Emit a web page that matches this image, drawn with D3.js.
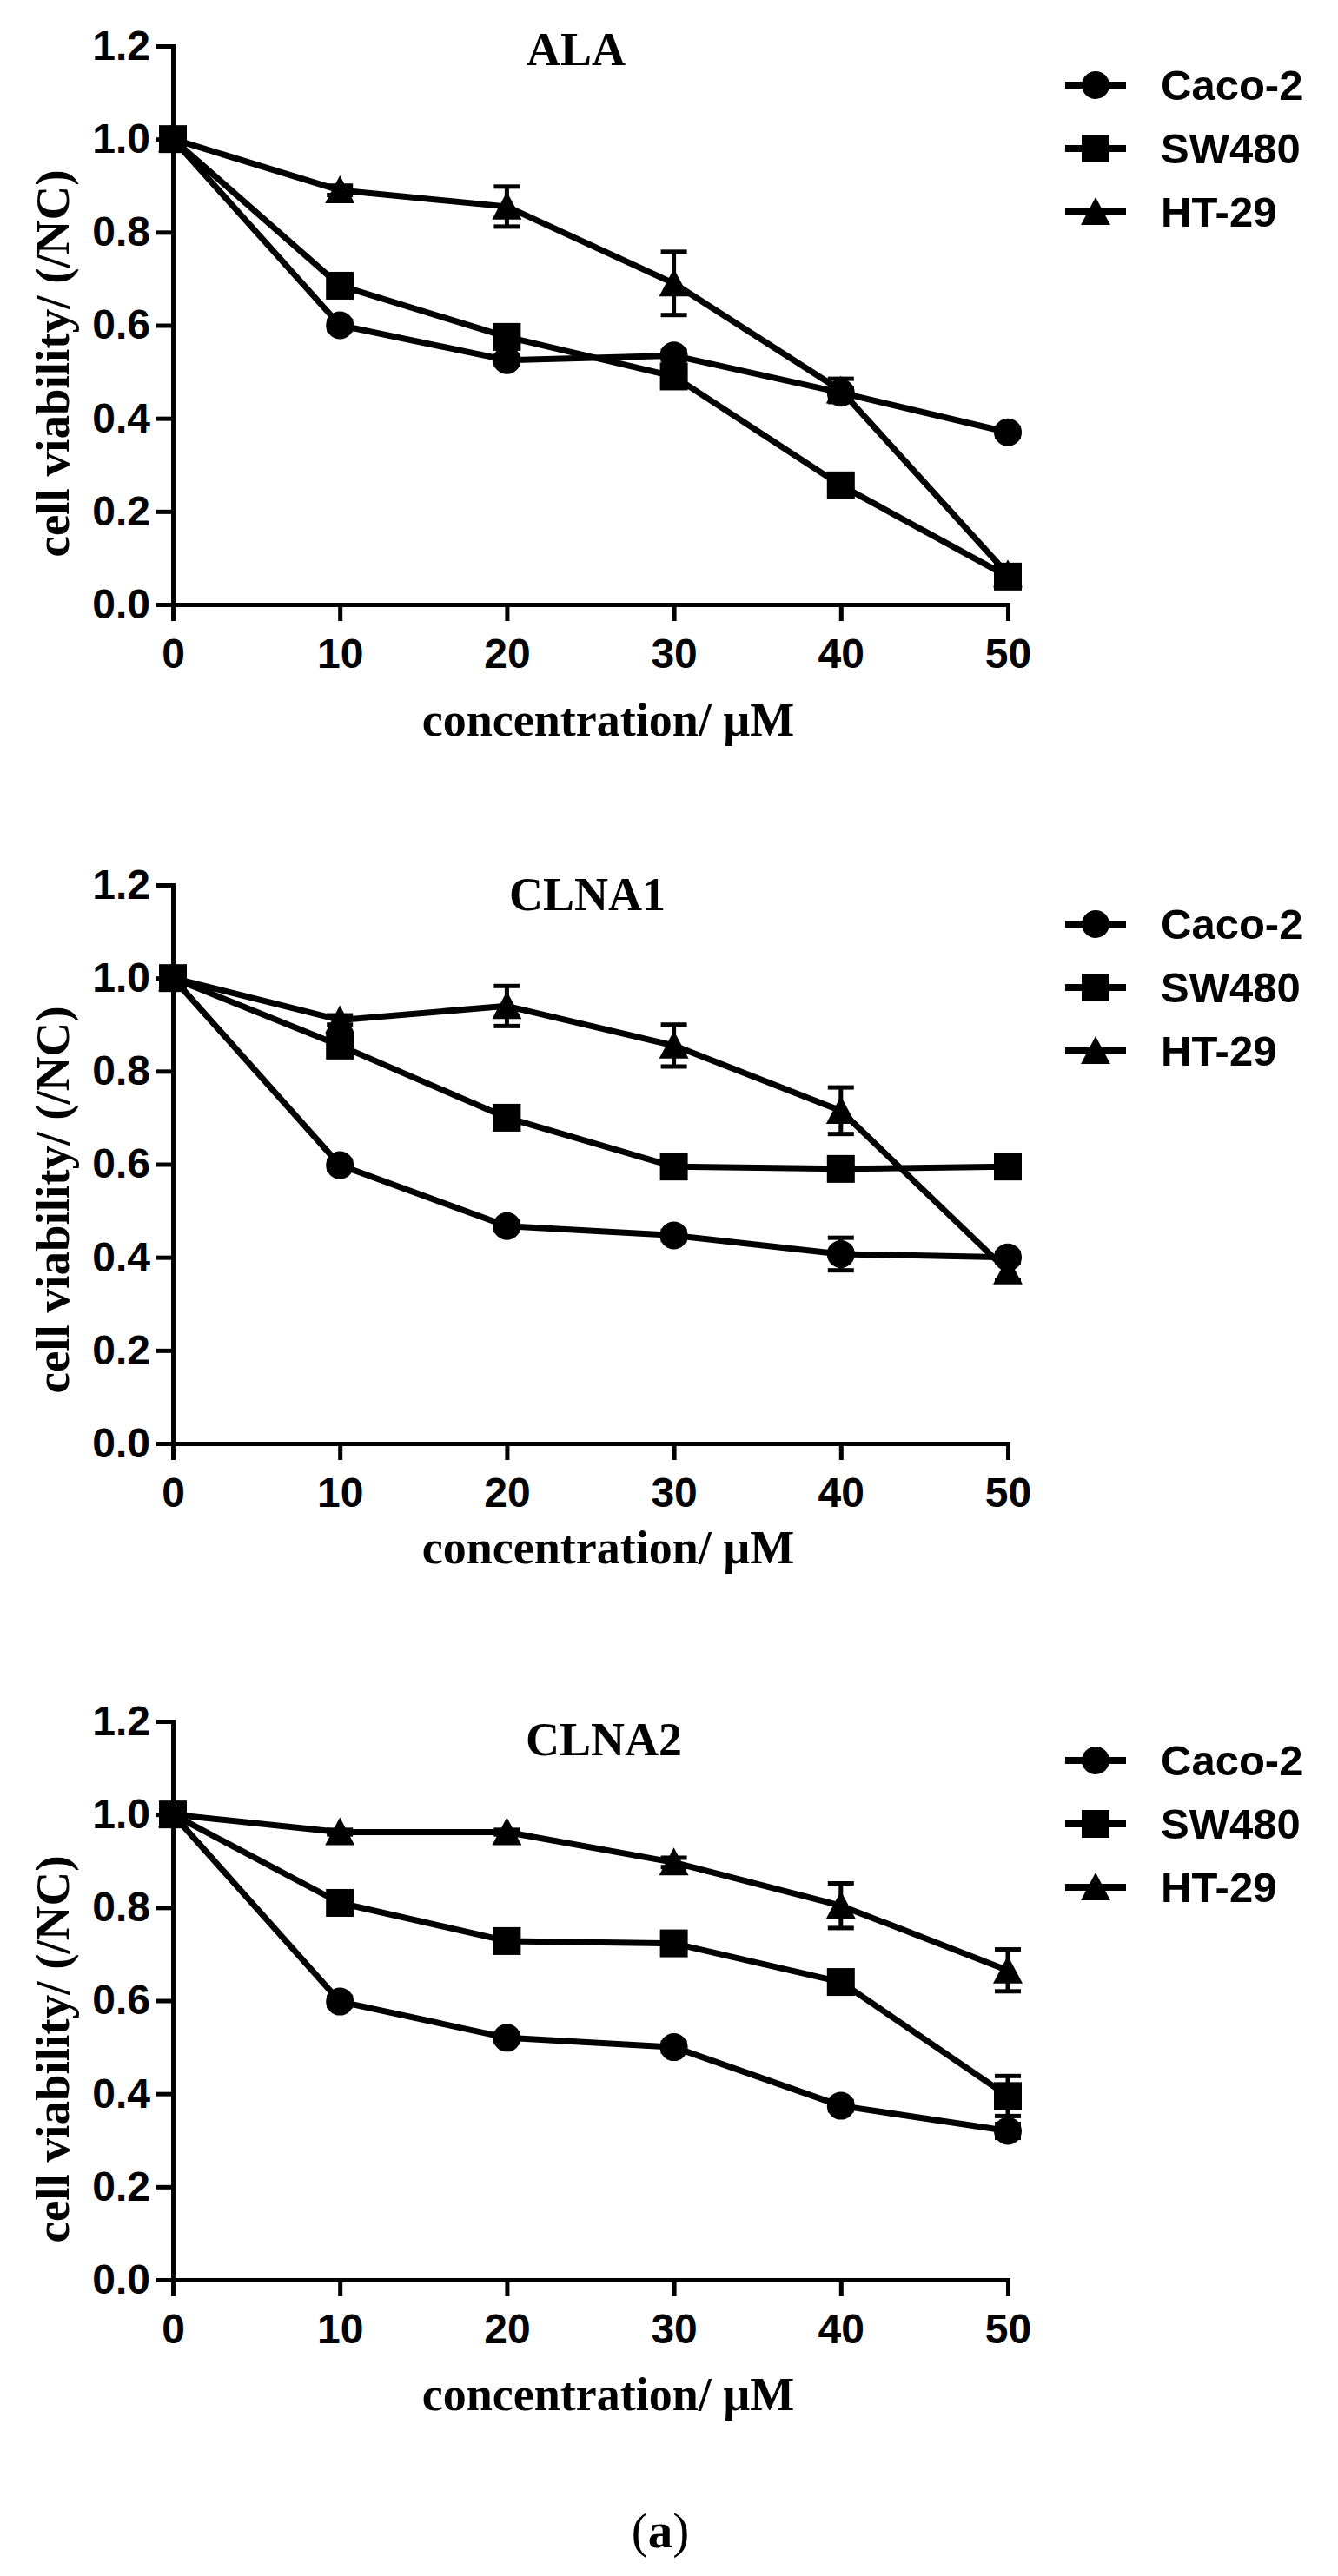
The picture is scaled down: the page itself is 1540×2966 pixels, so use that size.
<!DOCTYPE html>
<html>
<head>
<meta charset="utf-8">
<script src="https://cdn.jsdelivr.net/npm/d3@7"></script>
<style>
  body { margin: 0; background: #fff; }
  .tickText { font-family: "Liberation Sans", Arial, sans-serif; font-weight: bold; font-size: 48px; fill: #000; }
  .serifText { font-family: "Liberation Serif", "Times New Roman", serif; font-weight: bold; fill: #000; }
  .legendText { font-family: "Liberation Sans", Arial, sans-serif; font-weight: bold; font-size: 49px; fill: #000; }
</style>
</head>
<body>
<div id="chart"></div>
<script>
// values
var concentrations = [0, 10, 20, 30, 40, 50];
var seriesNames = ["Caco-2", "SW480", "HT-29"];
var panelTitles = ["ALA", "CLNA1", "CLNA2"];
var xTickValues = [0, 10, 20, 30, 40, 50];
var yTickValues = [0, 0.2, 0.4, 0.6, 0.8, 1.0, 1.2];

var alaCaco2 = [1.0, 0.60, 0.525, 0.535, 0.455, 0.37];
var alaSW480 = [1.0, 0.685, 0.575, 0.49, 0.256, 0.06];
var alaHT29 = [1.0, 0.89, 0.855, 0.69, 0.46, 0.065];
var alaCaco2Err = [0, 0.01, 0.01, 0.01, 0.01, 0.01];
var alaSW480Err = [0, 0.01, 0.02, 0.02, 0.015, 0.01];
var alaHT29Err = [0, 0.01, 0.043, 0.068, 0.025, 0.01];

var clna1Caco2 = [1.0, 0.598, 0.467, 0.447, 0.407, 0.40];
var clna1SW480 = [1.0, 0.855, 0.70, 0.595, 0.59, 0.595];
var clna1HT29 = [1.0, 0.91, 0.94, 0.855, 0.715, 0.37];
var clna1Caco2Err = [0, 0.01, 0.01, 0.01, 0.035, 0.01];
var clna1SW480Err = [0, 0.015, 0.01, 0.01, 0.01, 0.01];
var clna1HT29Err = [0, 0.01, 0.043, 0.045, 0.05, 0.02];

var clna2Caco2 = [1.0, 0.598, 0.52, 0.50, 0.374, 0.32];
var clna2SW480 = [1.0, 0.81, 0.728, 0.723, 0.64, 0.395];
var clna2HT29 = [1.0, 0.962, 0.962, 0.897, 0.804, 0.665];
var clna2Caco2Err = [0, 0.01, 0.01, 0.01, 0.01, 0.015];
var clna2SW480Err = [0, 0.01, 0.01, 0.01, 0.02, 0.043];
var clna2HT29Err = [0, 0.005, 0.005, 0.01, 0.048, 0.045];

var panelValues = [
    [alaCaco2, alaSW480, alaHT29],
    [clna1Caco2, clna1SW480, clna1HT29],
    [clna2Caco2, clna2SW480, clna2HT29]
];
var panelErrors = [
    [alaCaco2Err, alaSW480Err, alaHT29Err],
    [clna1Caco2Err, clna1SW480Err, clna1HT29Err],
    [clna2Caco2Err, clna2SW480Err, clna2HT29Err]
];

// layout
var svgWidth = 1540;
var svgHeight = 2966;
var plotLeft = 199;
var plotRight = 1160;
var plotHeight = 643;
var panelTops = [53, 1019, 1982];
var titleX = [663, 676, 695];
var titleDy = [22, 29, 39];
var xTitleDy = [151, 138, 150];
var yTitleShift = [44, 41, 56];

var svg = d3.select("#chart")
    .append("svg")
    .attr("width", svgWidth)
    .attr("height", svgHeight);

var trianglePath = "M0,-17L17,15L-17,15Z";

function drawMarker(g, idx, size) {
    if (idx === 0) {
        g.append("circle").attr("r", 16 * size).attr("fill", "#000");
    } else if (idx === 1) {
        g.append("rect")
            .attr("x", -16 * size).attr("y", -16 * size)
            .attr("width", 32 * size).attr("height", 32 * size)
            .attr("fill", "#000");
    } else {
        g.append("path").attr("d", trianglePath).attr("fill", "#000");
    }
}

panelTitles.forEach(function (title, p) {
    var top = panelTops[p];
    var bottom = top + plotHeight;

    var xScale = d3.scaleLinear()
        .domain([0, 50])
        .range([plotLeft, plotRight]);

    var yScale = d3.scaleLinear()
        .domain([0, 1.2])
        .range([bottom, top]);

    var panel = svg.append("g");

    // axes
    var bottomAxis = d3.axisBottom(xScale)
        .tickValues(xTickValues)
        .tickFormat(d3.format("d"))
        .tickSizeInner(19)
        .tickSizeOuter(0)
        .tickPadding(20);

    var leftAxis = d3.axisLeft(yScale)
        .tickValues(yTickValues)
        .tickFormat(d3.format(".1f"))
        .tickSizeInner(19)
        .tickSizeOuter(0)
        .tickPadding(7);

    var xAxisG = panel.append("g")
        .attr("transform", `translate(0, ${bottom})`)
        .call(bottomAxis);

    var yAxisG = panel.append("g")
        .attr("transform", `translate(${plotLeft}, 0)`)
        .call(leftAxis);

    [xAxisG, yAxisG].forEach(function (ax) {
        ax.attr("font-size", null).attr("font-family", null);
        ax.select(".domain").attr("stroke", "#000").attr("stroke-width", 5).attr("stroke-linecap", "square");
        ax.selectAll(".tick line").attr("stroke", "#000").attr("stroke-width", 5);
        ax.selectAll(".tick text").attr("class", "tickText");
    });

    // title
    panel.append("text")
        .attr("class", "serifText")
        .attr("x", titleX[p])
        .attr("y", top + titleDy[p])
        .attr("text-anchor", "middle")
        .attr("font-size", "54px")
        .text(title);

    // axis titles
    panel.append("text")
        .attr("class", "serifText")
        .attr("transform", `translate(79, ${(top + bottom) / 2 + yTitleShift[p]}) rotate(-90)`)
        .attr("text-anchor", "middle")
        .attr("font-size", "55px")
        .text("cell viability/ (/NC)");

    panel.append("text")
        .attr("class", "serifText")
        .attr("x", 700)
        .attr("y", bottom + xTitleDy[p])
        .attr("text-anchor", "middle")
        .attr("font-size", "54px")
        .text("concentration/ \u00b5M");

    var line = d3.line()
        .x(function (d) { return xScale(d.x); })
        .y(function (d) { return yScale(d.y); });

    panelValues[p].forEach(function (vals, s) {
        var pts = concentrations.map(function (c, i) {
            return { x: c, y: vals[i], e: panelErrors[p][s][i] };
        });

        panel.append("path")
            .datum(pts)
            .attr("d", line)
            .attr("fill", "none")
            .attr("stroke", "#000")
            .attr("stroke-width", 7)
            .attr("stroke-linejoin", "round");

        // error bars
        var errG = panel.selectAll(null)
            .data(pts.filter(function (d) { return d.e > 0; }))
            .enter()
            .append("g");

        errG.append("line")
            .attr("x1", function (d) { return xScale(d.x); })
            .attr("x2", function (d) { return xScale(d.x); })
            .attr("y1", function (d) { return yScale(d.y + d.e); })
            .attr("y2", function (d) { return yScale(d.y - d.e); })
            .attr("stroke", "#000")
            .attr("stroke-width", 5);

        [1, -1].forEach(function (sign) {
            errG.append("line")
                .attr("x1", function (d) { return xScale(d.x) - 15; })
                .attr("x2", function (d) { return xScale(d.x) + 15; })
                .attr("y1", function (d) { return yScale(d.y + sign * d.e); })
                .attr("y2", function (d) { return yScale(d.y + sign * d.e); })
                .attr("stroke", "#000")
                .attr("stroke-width", 5);
        });

        panel.selectAll(null)
            .data(pts)
            .enter()
            .append("g")
            .attr("transform", function (d) {
                return `translate(${xScale(d.x)}, ${yScale(d.y)})`;
            })
            .each(function () { drawMarker(d3.select(this), s, 1); });
    });

    // legend
    seriesNames.forEach(function (name, s) {
        var ly = top + 45 + s * 73;
        var lg = panel.append("g").attr("transform", `translate(1261, ${ly})`);
        lg.append("line")
            .attr("x1", -35).attr("x2", 35)
            .attr("stroke", "#000")
            .attr("stroke-width", 8);
        drawMarker(lg, s, 1);
        panel.append("text")
            .attr("class", "legendText")
            .attr("x", 1336)
            .attr("y", ly + 17)
            .text(name);
    });
});

// panel label
var caption = svg.append("text")
    .attr("class", "serifText")
    .attr("x", 760)
    .attr("y", 2933)
    .attr("text-anchor", "middle")
    .attr("font-size", "57px")
    .attr("font-weight", "normal");
caption.append("tspan").attr("font-weight", "normal").text("(");
caption.append("tspan").attr("font-weight", "bold").text("a");
caption.append("tspan").attr("font-weight", "normal").text(")");
</script>
</body>
</html>
